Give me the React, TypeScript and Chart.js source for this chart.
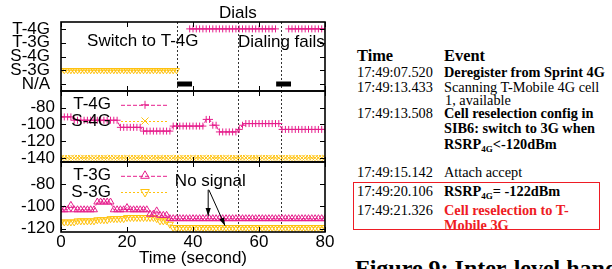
import React, { useEffect, useRef } from 'react';
import { Chart, registerables } from 'chart.js';
Chart.register(...registerables);

const N = null;
// sample times (seconds), one sample per second
const times: number[] = Array.from({ length: 81 }, (_, i) => i);

const xTicks = [0, 20, 40, 60, 80];
const statusTicks = [0, 1, 2, 3, 4];
const statusLabels = ['N/A', 'S-3G', 'S-4G', 'T-3G', 'T-4G'];
const rsrpTicks = [-80, -100, -120, -140];
const rscpTicks = [-80, -100, -120];

// panel 1: serving network status
const statusT4G = [
  N, N, N, N, N, N, N, N, N, N,
  N, N, N, N, N, N, N, N, N, N,
  N, N, N, N, N, N, N, N, N, N,
  N, N, N, N, N, N, N, N, N, 4,
  4, 4, 4, 4, 4, 4, 4, 4, 4, 4,
  4, 4, 4, 4, 4, 4, 4, 4, 4, 4,
  4, 4, 4, 4, 4, 4, N, N, N, 4,
  4, 4, 4, 4, 4, 4, 4, 4, 4, 4,
  4,
];
const statusS3G = [
  1, 1, 1, 1, 1, 1, 1, 1, 1, 1,
  1, 1, 1, 1, 1, 1, 1, 1, 1, 1,
  1, 1, 1, 1, 1, 1, 1, 1, 1, 1,
  1, 1, 1, 1, 1, 1, N, N, N, N,
  N, N, N, N, N, N, N, N, N, N,
  N, N, N, N, N, N, N, N, N, N,
  N, N, N, N, N, N, N, N, N, N,
  N, N, N, N, N, N, N, N, N, N,
  N,
];
const naStart = [35.2, 65.2];
const naEnd = [39.7, 69.7];
const eventTimes = [35, 53.6, 66.7];

// panel 2: 4G RSRP (dBm)
const rsrpT4G = [
  -91, -91, -91, -91, -95, -95, -95, -95, -95, -95,
  -95, -95, -95, -95, -95, -95, -95, -95, -103.5, -103.5,
  -103.5, -103.5, -103.5, -103.5, -103.5, -108, -108, -108, -108, -108,
  -108, -108, -108, -108, -102, -102, -102, -102, -102, -102,
  -102, -102, -102, -102, -94, -94, -101, -101, -109, -109,
  -109, -109, -109, -109, -106, -101, -99, -99, -99, -99,
  -99, -99, -99, -99, -99, -99, -99, -106, -106, -106,
  -106, -106, -106, -106, -106, -106, -106, -106, -106, -106,
  -106,
];
const rsrpS4G = [
  -140, -140, -140, -140, -140, -140, -140, -140, -140, -140,
  -140, -140, -140, -140, -140, -140, -140, -140, -140, -140,
  -140, -140, -140, -140, -140, -140, -140, -140, -140, -140,
  -140, -140, -140, -140, -140, -140, -140, -140, -140, -140,
  -140, -140, -140, -140, -140, -140, -140, -140, -140, -140,
  -140, -140, -140, -140, -140, -140, -140, -140, -140, -140,
  -140, -140, -140, -140, -140, -140, -140, -140, -140, -140,
  -140, -140, -140, -140, -140, -140, -140, -140, -140, -140,
  -140,
];

// panel 3: 3G RSCP (dBm)
const rscpT3G = [
  -103, -103, -103, -99, -103, -103, -103, -103, -103, -103,
  -103, -96, -96, -96, -96, -96, -103, -103, -103, -103,
  -101, -103, -103, -103, -103, -103, -103, -107, -107, -104,
  -108, -108, -108, -111, -111, -111, -111, -111, -111, -111,
  -111, -111, -111, -111, -111, -111, -111, -111, -111, -111,
  -111, -111, -111, -111, -111, -111, -111, -111, -111, -111,
  -111, -111, -111, -111, -111, -111, -111, -111, -111, -111,
  -111, -111, -111, -111, -111, -111, -111, -111, -111, -111,
  -111,
];
const rscpS3G = [
  -114, -114, -114, -114, -114, -113, -113, -113, -113, -113,
  -113, -112, -112, -112, -112, -111, -111, -111, -111, -111,
  -110, -110, -110, -110, -110, -110, -110, -110, -110, -111,
  -113, -113, -113, -116, -119, -119, -119, -119, -119, -119,
  -119, -119, -119, -119, -119, -119, -119, -119, -119, -119,
  -119, -119, -119, -119, -119, -119, -119, -119, -119, -119,
  -119, -119, -119, -119, -119, -119, -119, -119, -119, -119,
  -119, -119, -119, -119, -119, -119, -119, -119, -119, -119,
  -119,
];

const FONT = '"Liberation Sans", Arial, sans-serif';
const SERIF = '"Liberation Serif", "Times New Roman", serif';
const PINK = '#e61e8c';
const GOLD = '#ffc20e';

const pts = (arr: (number | null)[]) => times.map((t, i) => ({ x: t, y: arr[i] }));

function drawMarker(ctx: CanvasRenderingContext2D, style: string, x: number, y: number, r: number, rot: number) {
  ctx.beginPath();
  if (style === 'cross') {
    ctx.moveTo(x - r, y); ctx.lineTo(x + r, y);
    ctx.moveTo(x, y - r); ctx.lineTo(x, y + r);
  } else if (style === 'crossRot') {
    const d = r * Math.SQRT1_2;
    ctx.moveTo(x - d, y - d); ctx.lineTo(x + d, y + d);
    ctx.moveTo(x - d, y + d); ctx.lineTo(x + d, y - d);
  } else {
    let a = (rot * Math.PI) / 180;
    ctx.moveTo(x + Math.sin(a) * r, y - Math.cos(a) * r);
    a += (2 * Math.PI) / 3;
    ctx.lineTo(x + Math.sin(a) * r, y - Math.cos(a) * r);
    a += (2 * Math.PI) / 3;
    ctx.lineTo(x + Math.sin(a) * r, y - Math.cos(a) * r);
    ctx.closePath();
  }
  ctx.stroke();
}

type Spec = {
  yTicks: number[];
  legend?: { label: string; color: string; dash: number[]; style: string; rot: number; r: number }[];
  texts?: { text: string; x: number; y: number; align: CanvasTextAlign }[];
  arrows?: { x1: number; y1: number; x2: number; y2: number }[];
};

function framePlugin(spec: Spec) {
  return {
    id: 'frame',
    beforeDatasetsDraw(chart: any) {
      const { ctx, chartArea: a, scales } = chart;
      ctx.save();
      ctx.strokeStyle = '#333';
      ctx.lineWidth = 1;
      ctx.setLineDash([2, 2]);
      for (const t of eventTimes) {
        const px = Math.round(scales.x.getPixelForValue(t)) + 0.5;
        ctx.beginPath(); ctx.moveTo(px, a.top); ctx.lineTo(px, a.bottom); ctx.stroke();
      }
      ctx.restore();
    },
    afterDatasetsDraw(chart: any) {
      const { ctx, chartArea: a, scales } = chart;
      const sx = scales.x, sy = scales.y;
      ctx.save();
      ctx.strokeStyle = '#000';
      ctx.lineWidth = 1;
      ctx.setLineDash([]);
      const tl = 5;
      for (const v of xTicks) {
        const px = Math.round(sx.getPixelForValue(v)) + 0.5;
        ctx.beginPath();
        ctx.moveTo(px, a.top); ctx.lineTo(px, a.top + tl);
        ctx.moveTo(px, a.bottom); ctx.lineTo(px, a.bottom - tl);
        ctx.stroke();
      }
      for (const v of spec.yTicks) {
        const py = Math.round(sy.getPixelForValue(v)) + 0.5;
        ctx.beginPath();
        ctx.moveTo(a.left, py); ctx.lineTo(a.left + tl, py);
        ctx.moveTo(a.right, py); ctx.lineTo(a.right - tl, py);
        ctx.stroke();
      }
      ctx.lineWidth = 1.6;
      ctx.strokeRect(a.left, a.top, a.right - a.left, a.bottom - a.top);

      ctx.font = `17px ${FONT}`;
      ctx.fillStyle = '#000';
      ctx.textBaseline = 'middle';
      (spec.legend || []).forEach((e, i) => {
        const y = a.top + 13.8 + i * 16.2;
        ctx.textAlign = 'right';
        ctx.fillStyle = '#000';
        ctx.fillText(e.label, a.left + 50, y);
        ctx.strokeStyle = e.color;
        ctx.lineWidth = 1;
        ctx.setLineDash(e.dash);
        ctx.beginPath(); ctx.moveTo(a.left + 60, y + 0.5); ctx.lineTo(a.left + 107, y + 0.5); ctx.stroke();
        ctx.setLineDash([]);
        drawMarker(ctx, e.style, a.left + 84, y, e.r, e.rot);
      });
      ctx.fillStyle = '#000';
      for (const t of spec.texts || []) {
        ctx.textAlign = t.align;
        ctx.fillText(t.text, sx.getPixelForValue(t.x), sy.getPixelForValue(t.y));
      }
      ctx.strokeStyle = '#000';
      ctx.lineWidth = 1;
      for (const ar of spec.arrows || []) {
        const x1 = sx.getPixelForValue(ar.x1), y1 = sy.getPixelForValue(ar.y1);
        const x2 = sx.getPixelForValue(ar.x2), y2 = sy.getPixelForValue(ar.y2);
        ctx.beginPath(); ctx.moveTo(x1, y1); ctx.lineTo(x2, y2); ctx.stroke();
        const ang = Math.atan2(y2 - y1, x2 - x1);
        const L = 8, W = 2.6;
        ctx.beginPath();
        ctx.moveTo(x2, y2);
        ctx.lineTo(x2 - L * Math.cos(ang) + W * Math.sin(ang), y2 - L * Math.sin(ang) - W * Math.cos(ang));
        ctx.lineTo(x2 - L * Math.cos(ang) - W * Math.sin(ang), y2 - L * Math.sin(ang) + W * Math.cos(ang));
        ctx.closePath();
        ctx.fill();
      }
      ctx.restore();
    },
  };
}

function xScale(show: boolean) {
  return {
    type: 'linear', min: 0, max: 80, display: show,
    afterBuildTicks: (s: any) => { s.ticks = xTicks.map((v) => ({ value: v })); },
    afterFit: (s: any) => { if (show) s.height = 37; s.paddingLeft = 0; s.paddingRight = 0; },
    grid: { display: false, drawTicks: false },
    border: { display: false },
    ticks: { padding: 0, color: '#000', font: { family: FONT, size: 17 }, autoSkip: false, maxRotation: 0 },
    title: { display: show, text: 'Time (second)', color: '#000', font: { family: FONT, size: 17 }, padding: { top: 0, bottom: 0 } },
  };
}

function yScale(min: number, max: number, ticks: number[], padding: number, labels?: string[]) {
  return {
    type: 'linear', min, max,
    afterBuildTicks: (s: any) => { s.ticks = ticks.map((v) => ({ value: v })); },
    afterFit: (s: any) => { s.width = 61; s.paddingTop = 0; s.paddingBottom = 0; },
    grid: { display: false, drawTicks: false },
    border: { display: false },
    ticks: {
      padding, color: '#000', autoSkip: false, font: { family: FONT, size: 17 },
      callback: (v: number) => (labels ? labels[ticks.indexOf(v)] : String(v)),
    },
  };
}

function baseOptions(padding: any, x: any, y: any) {
  return {
    animation: false, responsive: false, devicePixelRatio: 1, events: [],
    layout: { padding },
    plugins: { legend: { display: false }, tooltip: { enabled: false } },
    elements: { line: { tension: 0 } },
    scales: { x, y },
  };
}

function makeConfigs() {
  const c1: any = {
    type: 'line',
    data: {
      datasets: [
        { data: pts(statusT4G), borderColor: PINK, borderWidth: 1, pointStyle: 'cross', pointRadius: 3.5, pointBorderWidth: 1, pointBorderColor: PINK, spanGaps: false, fill: false },
        { data: pts(statusS3G), borderColor: GOLD, borderWidth: 1, pointStyle: 'triangle', pointRotation: 180, pointRadius: 3.5, pointBorderWidth: 1, pointBorderColor: GOLD, pointBackgroundColor: 'rgba(0,0,0,0)', spanGaps: false, fill: false },
        { data: naStart.flatMap((s, i) => [{ x: s, y: 0 }, { x: naEnd[i], y: 0 }, { x: naEnd[i] + 0.1, y: null }]), borderColor: '#000', borderWidth: 5, borderCapStyle: 'butt', pointRadius: 0, spanGaps: false, fill: false },
      ],
    },
    options: baseOptions({ left: 0, top: 22, right: 20, bottom: 9 }, xScale(false), yScale(-0.5, 4.5, statusTicks, 11, statusLabels)),
    plugins: [framePlugin({
      yTicks: statusTicks,
      texts: [
        { text: 'Dials', x: 53.6, y: 5.1, align: 'center' },
        { text: 'Switch to T-4G', x: 7.9, y: 3.08, align: 'left' },
        { text: 'Dialing fails', x: 53.6, y: 3.05, align: 'left' },
      ],
    })],
  };
  const c2: any = {
    type: 'line',
    data: {
      datasets: [
        { data: pts(rsrpT4G), borderColor: PINK, borderWidth: 1, borderDash: [4, 2], pointStyle: 'cross', pointRadius: 3.5, pointBorderWidth: 1, pointBorderColor: PINK, fill: false },
        { data: pts(rsrpS4G), borderColor: GOLD, borderWidth: 1, borderDash: [2, 2], pointStyle: 'crossRot', pointRadius: 4, pointBorderWidth: 1, pointBorderColor: GOLD, fill: false },
      ],
    },
    options: baseOptions({ left: 0, top: 6, right: 20, bottom: 8 }, xScale(false), yScale(-145, -60, rsrpTicks, 6)),
    plugins: [framePlugin({
      yTicks: rsrpTicks,
      legend: [
        { label: 'T-4G', color: PINK, dash: [4, 2], style: 'cross', rot: 0, r: 4 },
        { label: 'S-4G', color: GOLD, dash: [2, 2], style: 'crossRot', rot: 0, r: 5 },
      ],
    })],
  };
  const c3: any = {
    type: 'line',
    data: {
      datasets: [
        { data: pts(rscpT3G), borderColor: PINK, borderWidth: 1, borderDash: [4, 2], pointStyle: 'triangle', pointRadius: 4, pointBorderWidth: 1, pointBorderColor: PINK, pointBackgroundColor: 'rgba(0,0,0,0)', fill: false },
        { data: pts(rscpS3G), borderColor: GOLD, borderWidth: 1, borderDash: [2, 2], pointStyle: 'triangle', pointRotation: 180, pointRadius: 4, pointBorderWidth: 1, pointBorderColor: GOLD, pointBackgroundColor: 'rgba(0,0,0,0)', fill: false },
      ],
    },
    options: baseOptions({ left: 0, top: 7, right: 20, bottom: 0 }, xScale(true), yScale(-123, -60, rscpTicks, 6)),
    plugins: [framePlugin({
      yTicks: rscpTicks,
      legend: [
        { label: 'T-3G', color: PINK, dash: [4, 2], style: 'triangle', rot: 0, r: 5 },
        { label: 'S-3G', color: GOLD, dash: [2, 2], style: 'triangle', rot: 180, r: 5 },
      ],
      texts: [{ text: 'No signal', x: 34.5, y: -77.7, align: 'left' }],
      arrows: [
        { x1: 44.6, y1: -85, x2: 44.6, y2: -108.5 },
        { x1: 44.8, y1: -85, x2: 49.7, y2: -117.3 },
      ],
    })],
  };
  return [c1, c2, c3];
}

function Txt(props: { x: number; y: number; size?: number; bold?: boolean; color?: string; children: any }) {
  const size = props.size ?? 14.3;
  const L = Math.round(size * 1.1);
  return (
    <div style={{
      position: 'absolute', left: props.x, top: props.y - L / 2, fontFamily: SERIF, fontSize: size,
      lineHeight: `${L}px`, fontWeight: props.bold ? 'bold' : 'normal', color: props.color ?? '#000', whiteSpace: 'nowrap',
    }}>{props.children}</div>
  );
}

const Sub = ({ children }: { children: any }) => (
  <span style={{ fontSize: 9, position: 'relative', top: 3 }}>{children}</span>
);

export default function App() {
  const r1 = useRef<HTMLCanvasElement>(null);
  const r2 = useRef<HTMLCanvasElement>(null);
  const r3 = useRef<HTMLCanvasElement>(null);
  useEffect(() => {
    const [c1, c2, c3] = makeConfigs();
    const charts = [new Chart(r1.current!, c1), new Chart(r2.current!, c2), new Chart(r3.current!, c3)];
    return () => charts.forEach((c) => c.destroy());
  }, []);
  const red = '#ee1c24';
  return (
    <div style={{ position: 'absolute', left: 0, top: 0, width: 612, height: 269, overflow: 'hidden', background: '#fff' }}>
      <canvas ref={r1} width={345} height={100} style={{ position: 'absolute', left: 0, top: 0 }} />
      <canvas ref={r2} width={345} height={85} style={{ position: 'absolute', left: 0, top: 85 }} />
      <canvas ref={r3} width={345} height={114} style={{ position: 'absolute', left: 0, top: 155 }} />

      <Txt x={357} y={56} size={16.4} bold>Time</Txt>
      <Txt x={444} y={56} size={16.4} bold>Event</Txt>
      <Txt x={357} y={72.3}>17:49:07.520</Txt>
      <Txt x={444} y={72.3} bold>Deregister from Sprint 4G</Txt>
      <Txt x={357} y={86.7}>17:49:13.433</Txt>
      <Txt x={444} y={86.7}>Scanning T-Mobile 4G cell</Txt>
      <Txt x={445} y={100}>1, available</Txt>
      <Txt x={357} y={113.3}>17:49:13.508</Txt>
      <Txt x={444} y={113.3} bold>Cell reselection config in</Txt>
      <Txt x={444} y={128.3} bold>SIB6: switch to 3G when</Txt>
      <Txt x={444} y={143.5} bold>RSRP<Sub>4G</Sub>&lt;-120dBm</Txt>
      <Txt x={357} y={171.7}>17:49:15.142</Txt>
      <Txt x={444} y={171.7}>Attach accept</Txt>
      <Txt x={357} y={190.7}>17:49:20.106</Txt>
      <Txt x={444} y={190.7} bold>RSRP<Sub>4G</Sub>= -122dBm</Txt>
      <Txt x={357} y={210}>17:49:21.326</Txt>
      <Txt x={444} y={210} bold color={red}>Cell reselection to T-</Txt>
      <Txt x={444} y={225} bold color={red}>Mobile 3G</Txt>
      <div style={{ position: 'absolute', left: 353, top: 181.5, width: 247, height: 48.5, border: `1.5px solid ${red}`, boxSizing: 'border-box' }} />
      <div style={{ position: 'absolute', left: 355, top: 256, fontFamily: SERIF, fontSize: 24, lineHeight: '24px', fontWeight: 'bold', whiteSpace: 'nowrap' }}>
        Figure 9: Inter-level handover
      </div>
    </div>
  );
}
